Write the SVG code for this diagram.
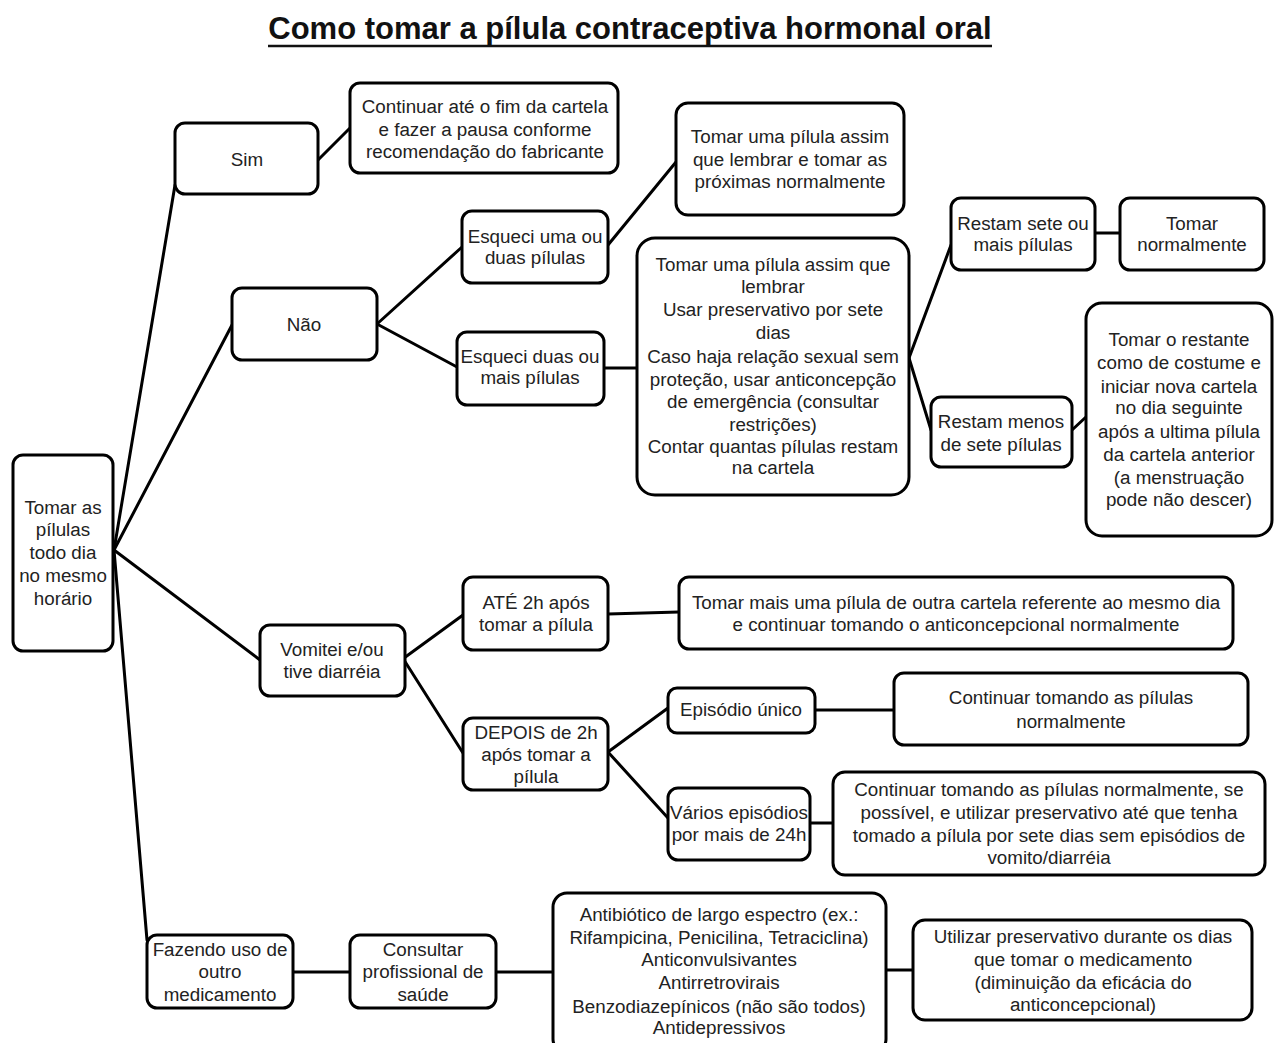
<svg xmlns="http://www.w3.org/2000/svg" width="1276" height="1043" viewBox="0 0 1276 1043">
<style>
.b{fill:#fff;stroke:#000;stroke-width:3}
.t{font-family:"Liberation Sans",Arial,sans-serif;font-size:18.8px;fill:#222;text-anchor:middle}
.c line{stroke:#000;stroke-width:3;stroke-linecap:round}
.title{font-family:"Liberation Sans",Arial,sans-serif;font-size:31px;font-weight:bold;fill:#111;text-anchor:middle}
</style>
<rect width="1276" height="1043" fill="#fff"/>
<g id="title">
<text class="title" x="630" y="39">Como tomar a pílula contraceptiva hormonal oral</text>
<line x1="268" y1="46" x2="992" y2="46" stroke="#111" stroke-width="2.5"/>
</g>
<g id="connectors" class="c">
<line x1="114" y1="550" x2="175" y2="185"/>
<line x1="114" y1="550" x2="232" y2="325"/>
<line x1="114" y1="550" x2="260" y2="660"/>
<line x1="114" y1="550" x2="147" y2="940"/>
<line x1="318" y1="160" x2="350" y2="128"/>
<line x1="377" y1="324" x2="462" y2="247"/>
<line x1="377" y1="324" x2="457" y2="367"/>
<line x1="608" y1="245" x2="676" y2="162"/>
<line x1="604" y1="368" x2="637" y2="368"/>
<line x1="909" y1="358" x2="951" y2="245"/>
<line x1="909" y1="358" x2="931" y2="430"/>
<line x1="1095" y1="233" x2="1120" y2="233"/>
<line x1="1072" y1="430" x2="1086" y2="417"/>
<line x1="404" y1="658" x2="463" y2="615"/>
<line x1="404" y1="660" x2="463" y2="753"/>
<line x1="608" y1="614" x2="679" y2="612"/>
<line x1="608" y1="752" x2="668" y2="708"/>
<line x1="608" y1="752" x2="668" y2="818"/>
<line x1="815" y1="710" x2="894" y2="710"/>
<line x1="810" y1="823" x2="835" y2="823"/>
<line x1="293" y1="972" x2="350" y2="972"/>
<line x1="496" y1="972" x2="553" y2="972"/>
<line x1="886" y1="970" x2="913" y2="970"/>
</g>
<g id="root">
<rect class="b" x="13" y="455" width="100" height="196" rx="10"/>
<text class="t" x="63" y="514">Tomar as</text>
<text class="t" x="63" y="536">pílulas</text>
<text class="t" x="63" y="559">todo dia</text>
<text class="t" x="63" y="582">no mesmo</text>
<text class="t" x="63" y="605">horário</text>
</g>
<g id="sim">
<rect class="b" x="175" y="123" width="143" height="71" rx="10"/>
<text class="t" x="247" y="166">Sim</text>
</g>
<g id="sim-acao">
<rect class="b" x="350" y="83" width="268" height="90" rx="10"/>
<text class="t" x="485" y="113">Continuar até o fim da cartela</text>
<text class="t" x="485" y="136">e fazer a pausa conforme</text>
<text class="t" x="485" y="158">recomendação do fabricante</text>
</g>
<g id="nao">
<rect class="b" x="232" y="288" width="145" height="72" rx="10"/>
<text class="t" x="304" y="331">Não</text>
</g>
<g id="esqueci-uma">
<rect class="b" x="462" y="211" width="146" height="72" rx="10"/>
<text class="t" x="535" y="243">Esqueci uma ou</text>
<text class="t" x="535" y="264">duas pílulas</text>
</g>
<g id="esqueci-uma-acao">
<rect class="b" x="676" y="103" width="228" height="112" rx="12"/>
<text class="t" x="790" y="143">Tomar uma pílula assim</text>
<text class="t" x="790" y="166">que lembrar e tomar as</text>
<text class="t" x="790" y="188">próximas normalmente</text>
</g>
<g id="esqueci-duas">
<rect class="b" x="457" y="332" width="147" height="73" rx="10"/>
<text class="t" x="530" y="363">Esqueci duas ou</text>
<text class="t" x="530" y="384">mais pílulas</text>
</g>
<g id="esqueci-duas-acao">
<rect class="b" x="637" y="238" width="272" height="257" rx="18"/>
<text class="t" x="773" y="271">Tomar uma pílula assim que</text>
<text class="t" x="773" y="293">lembrar</text>
<text class="t" x="773" y="316">Usar preservativo por sete</text>
<text class="t" x="773" y="339">dias</text>
<text class="t" x="773" y="363">Caso haja relação sexual sem</text>
<text class="t" x="773" y="386">proteção, usar anticoncepção</text>
<text class="t" x="773" y="408">de emergência (consultar</text>
<text class="t" x="773" y="431">restrições)</text>
<text class="t" x="773" y="453">Contar quantas pílulas restam</text>
<text class="t" x="773" y="474">na cartela</text>
</g>
<g id="restam-sete">
<rect class="b" x="951" y="198" width="144" height="72" rx="10"/>
<text class="t" x="1023" y="230">Restam sete ou</text>
<text class="t" x="1023" y="251">mais pílulas</text>
</g>
<g id="tomar-normalmente">
<rect class="b" x="1120" y="198" width="144" height="72" rx="10"/>
<text class="t" x="1192" y="230">Tomar</text>
<text class="t" x="1192" y="251">normalmente</text>
</g>
<g id="restam-menos">
<rect class="b" x="931" y="397" width="141" height="70" rx="10"/>
<text class="t" x="1001" y="428">Restam menos</text>
<text class="t" x="1001" y="451">de sete pílulas</text>
</g>
<g id="tomar-restante">
<rect class="b" x="1086" y="303" width="186" height="233" rx="16"/>
<text class="t" x="1179" y="346">Tomar o restante</text>
<text class="t" x="1179" y="369">como de costume e</text>
<text class="t" x="1179" y="393">iniciar nova cartela</text>
<text class="t" x="1179" y="414">no dia seguinte</text>
<text class="t" x="1179" y="438">após a ultima pílula</text>
<text class="t" x="1179" y="461">da cartela anterior</text>
<text class="t" x="1179" y="484">(a menstruação</text>
<text class="t" x="1179" y="506">pode não descer)</text>
</g>
<g id="vomitei">
<rect class="b" x="260" y="625" width="145" height="71" rx="10"/>
<text class="t" x="332" y="656">Vomitei e/ou</text>
<text class="t" x="332" y="678">tive diarréia</text>
</g>
<g id="ate-2h">
<rect class="b" x="463" y="577" width="145" height="73" rx="10"/>
<text class="t" x="536" y="609">ATÉ 2h após</text>
<text class="t" x="536" y="631">tomar a pílula</text>
</g>
<g id="ate-2h-acao">
<rect class="b" x="679" y="577" width="554" height="72" rx="10"/>
<text class="t" x="956" y="609">Tomar mais uma pílula de outra cartela referente ao mesmo dia</text>
<text class="t" x="956" y="631">e continuar tomando o anticoncepcional normalmente</text>
</g>
<g id="depois-2h">
<rect class="b" x="463" y="718" width="145" height="72" rx="10"/>
<text class="t" x="536" y="739">DEPOIS de 2h</text>
<text class="t" x="536" y="761">após tomar a</text>
<text class="t" x="536" y="783">pílula</text>
</g>
<g id="episodio-unico">
<rect class="b" x="668" y="688" width="147" height="45" rx="9"/>
<text class="t" x="741" y="716">Episódio único</text>
</g>
<g id="episodio-unico-acao">
<rect class="b" x="894" y="673" width="354" height="72" rx="10"/>
<text class="t" x="1071" y="704">Continuar tomando as pílulas</text>
<text class="t" x="1071" y="728">normalmente</text>
</g>
<g id="varios-episodios">
<rect class="b" x="668" y="788" width="142" height="72" rx="10"/>
<text class="t" x="739" y="819">Vários episódios</text>
<text class="t" x="739" y="841">por mais de 24h</text>
</g>
<g id="varios-episodios-acao">
<rect class="b" x="833" y="772" width="432" height="103" rx="12"/>
<text class="t" x="1049" y="796">Continuar tomando as pílulas normalmente, se</text>
<text class="t" x="1049" y="819">possível, e utilizar preservativo até que tenha</text>
<text class="t" x="1049" y="842">tomado a pílula por sete dias sem episódios de</text>
<text class="t" x="1049" y="864">vomito/diarréia</text>
</g>
<g id="outro-medicamento">
<rect class="b" x="147" y="935" width="146" height="73" rx="10"/>
<text class="t" x="220" y="956">Fazendo uso de</text>
<text class="t" x="220" y="978">outro</text>
<text class="t" x="220" y="1001">medicamento</text>
</g>
<g id="consultar">
<rect class="b" x="350" y="935" width="146" height="73" rx="10"/>
<text class="t" x="423" y="956">Consultar</text>
<text class="t" x="423" y="978">profissional de</text>
<text class="t" x="423" y="1001">saúde</text>
</g>
<g id="medicamentos">
<rect class="b" x="553" y="893" width="333" height="160" rx="14"/>
<text class="t" x="719" y="921">Antibiótico de largo espectro (ex.:</text>
<text class="t" x="719" y="944">Rifampicina, Penicilina, Tetraciclina)</text>
<text class="t" x="719" y="966">Anticonvulsivantes</text>
<text class="t" x="719" y="989">Antirretrovirais</text>
<text class="t" x="719" y="1013">Benzodiazepínicos (não são todos)</text>
<text class="t" x="719" y="1034">Antidepressivos</text>
</g>
<g id="medicamentos-acao">
<rect class="b" x="913" y="920" width="339" height="100" rx="12"/>
<text class="t" x="1083" y="943">Utilizar preservativo durante os dias</text>
<text class="t" x="1083" y="966">que tomar o medicamento</text>
<text class="t" x="1083" y="989">(diminuição da eficácia do</text>
<text class="t" x="1083" y="1011">anticoncepcional)</text>
</g>
</svg>
